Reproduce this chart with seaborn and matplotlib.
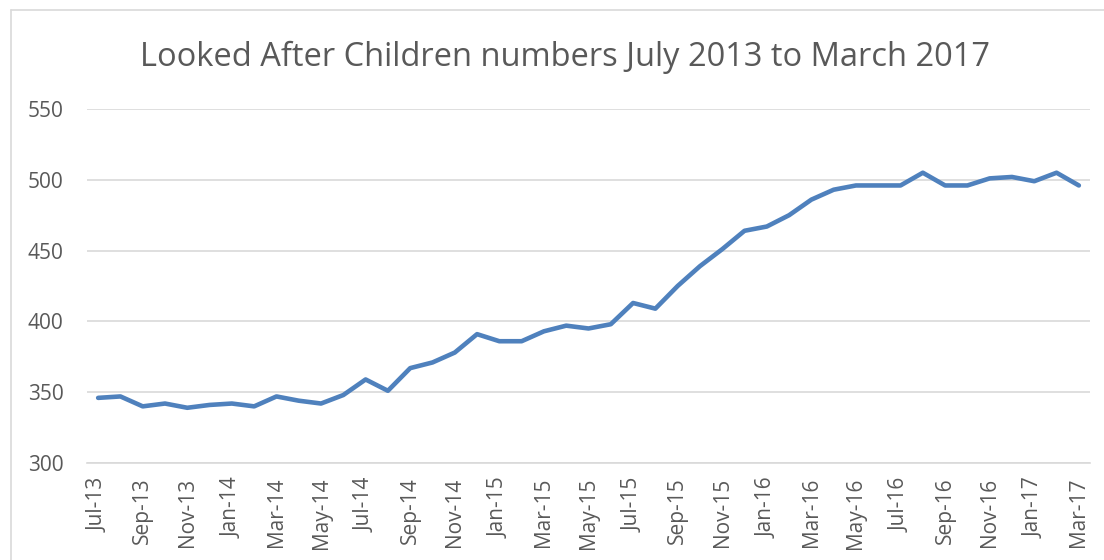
import matplotlib
matplotlib.use("Agg")
import matplotlib.pyplot as plt
import matplotlib.lines as mlines
import seaborn as sns
import pandas as pd

months = ["Jul-13", "Aug-13", "Sep-13", "Oct-13", "Nov-13", "Dec-13",
          "Jan-14", "Feb-14", "Mar-14", "Apr-14", "May-14", "Jun-14",
          "Jul-14", "Aug-14", "Sep-14", "Oct-14", "Nov-14", "Dec-14",
          "Jan-15", "Feb-15", "Mar-15", "Apr-15", "May-15", "Jun-15",
          "Jul-15", "Aug-15", "Sep-15", "Oct-15", "Nov-15", "Dec-15",
          "Jan-16", "Feb-16", "Mar-16", "Apr-16", "May-16", "Jun-16",
          "Jul-16", "Aug-16", "Sep-16", "Oct-16", "Nov-16", "Dec-16",
          "Jan-17", "Feb-17", "Mar-17"]
children = [346, 347, 340, 342, 339, 341,
            342, 340, 347, 344, 342, 348,
            359, 351, 367, 371, 378, 391,
            386, 386, 393, 397, 395, 398,
            413, 409, 425, 439, 451, 464,
            467, 475, 486, 493, 496, 496,
            496, 505, 496, 496, 501, 502,
            499, 505, 496]
y_ticks = [300, 350, 400, 450, 500, 550]
title = "Looked After Children numbers July 2013 to March 2017"

sns.set_theme(style="white")
plt.rcParams['font.family'] = ['Open Sans', 'DejaVu Sans']

TEXT = "#595959"
GRID = "#D9D9D9"
LINE = "#4F81BD"

W, H = 1104, 560
fig = plt.figure(figsize=(W / 100, H / 100), dpi=100)
ax = fig.add_axes([87 / W, 1 - 463 / H, (1090 - 87) / W, (463 - 109) / H])

df = pd.DataFrame({"pos": range(len(months)), "month": months, "value": children})
sns.lineplot(data=df, x="pos", y="value", ax=ax, color=LINE, linewidth=3.3,
             solid_joinstyle="round", solid_capstyle="round")

ax.set_xlim(-0.5, len(months) - 0.5)
ax.set_ylim(y_ticks[0], y_ticks[-1])
ax.set_yticks(y_ticks)
ax.set_yticklabels([str(v) for v in y_ticks], color=TEXT, fontsize=15)
ax.yaxis.grid(True, color=GRID, linewidth=1.2)
ax.set_axisbelow(True)

# major ticks at category boundaries (every 2), labels at categories
ax.set_xticks([i - 0.5 for i in range(0, len(months) - 1, 2)])
ax.set_xticklabels([])
ax.set_xticks(list(range(0, len(months), 2)), minor=True)
ax.set_xticklabels(months[::2], minor=True, rotation=90, color=TEXT, fontsize=15)
ax.tick_params(axis="x", which="major", length=6, color=GRID, width=1.2, direction="out")
ax.tick_params(axis="x", which="minor", length=0, pad=10.5)
ax.tick_params(axis="y", length=0, pad=17)

ax.set_xlabel("")
ax.set_ylabel("")
for s in ["top", "right", "left"]:
    ax.spines[s].set_visible(False)
ax.spines["bottom"].set_color(GRID)
ax.spines["bottom"].set_linewidth(1.2)

fig.text(565 / W, 1 - 66 / H, title, ha="center", va="baseline",
         fontsize=23.5, color=TEXT)

# chart-area border (left and top edges visible)
fig.add_artist(mlines.Line2D([11 / W, 11 / W], [0, 1 - 10 / H], color=GRID,
                             linewidth=1.2, transform=fig.transFigure))
fig.add_artist(mlines.Line2D([11 / W, 1], [1 - 10 / H, 1 - 10 / H], color=GRID,
                             linewidth=1.2, transform=fig.transFigure))

fig.savefig("out.png", dpi=100)
